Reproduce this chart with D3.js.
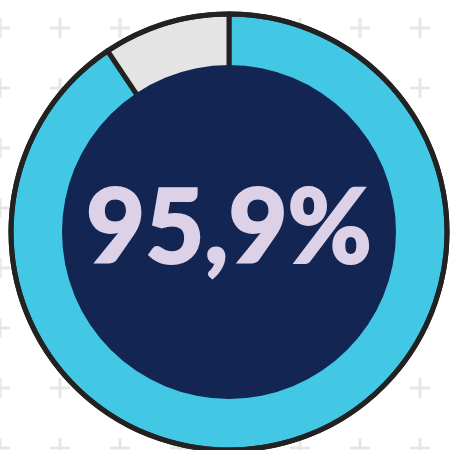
<!DOCTYPE html>
<html>
<head>
<meta charset="utf-8">
<script src="https://cdn.jsdelivr.net/npm/d3@7"></script>
<style>
  body { margin: 0; background: #fff; }
</style>
</head>
<body>
<div id="chart"></div>
<script>
// Data
const labelValue = 95.9;
const sliceNames = ['main', 'rest'];
const sliceShares = [90.6, 9.4];
const sliceColors = ['#42c8e5', '#e4e4e4'];

const width = 450, height = 450;
const cx = 229, cy = 232;
const outerR = 218, innerR = 160, holeR = 167;

const svg = d3.select('#chart')
    .append('svg')
    .attr('width', width)
    .attr('height', height);

// Background plus pattern
const gridX = d3.range(0, 481, 60);
const gridY = d3.range(28, 481, 60);
const bg = svg.append('g').attr('stroke', '#e6e6e6').attr('stroke-width', 3);
gridY.forEach(y => {
    gridX.forEach(x => {
        bg.append('line').attr('x1', x - 10).attr('x2', x + 10).attr('y1', y).attr('y2', y);
        bg.append('line').attr('x1', x).attr('x2', x).attr('y1', y - 10).attr('y2', y + 10);
    });
});

const g = svg.append('g')
    .attr('transform', `translate(${cx},${cy})`);

// Pie, clockwise from the top, so the grey piece ends at 12 o'clock
const pie = d3.pie()
    .sort(null);

const arc = d3.arc()
    .innerRadius(innerR)
    .outerRadius(outerR);

g.selectAll('path.slice')
    .data(pie(sliceShares))
    .join('path')
    .attr('class', 'slice')
    .attr('d', arc)
    .attr('fill', (d, i) => sliceColors[i])
    .attr('stroke', '#222')
    .attr('stroke-width', 5)
    .attr('stroke-linejoin', 'round');

// Outer border
g.append('circle')
    .attr('r', outerR)
    .attr('fill', 'none')
    .attr('stroke', '#222')
    .attr('stroke-width', 5);

// Dark centre
g.append('circle')
    .attr('r', holeR)
    .attr('fill', '#132552');

// Label
const fmt = d3.formatLocale({decimal: ',', thousands: '.', grouping: [3], currency: ['', '']});
g.append('text')
    .attr('y', 31)
    .attr('text-anchor', 'middle')
    .attr('font-family', 'Lato, sans-serif')
    .attr('font-weight', 900)
    .attr('font-size', 102)
    .attr('fill', '#ddd1e8')
    .attr('stroke', '#ddd1e8')
    .attr('stroke-width', 2)
    .text(fmt.format('.1f')(labelValue) + '%');
</script>
</body>
</html>
